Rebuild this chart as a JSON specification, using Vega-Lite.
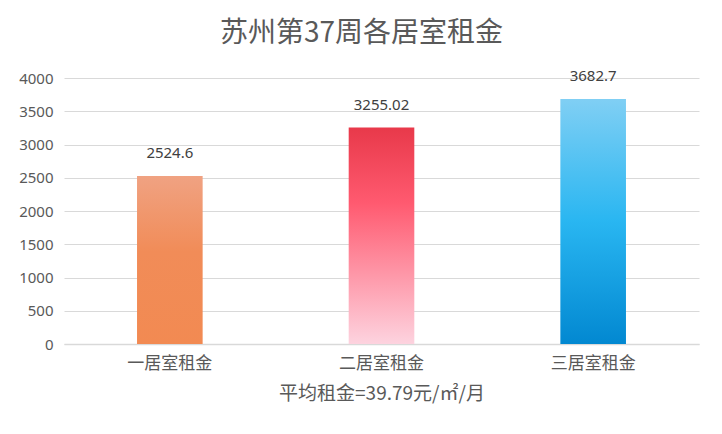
{
  "$schema": "https://vega.github.io/schema/vega-lite/v6.json",
  "width": 635,
  "height": 266,
  "autosize": {"type": "none"},
  "padding": {"left": 64, "top": 78, "right": 23, "bottom": 90},
  "background": "white",
  "title": {
    "text": "苏州第37周各居室租金",
    "font": "Noto Sans CJK SC",
    "fontSize": 28,
    "fontWeight": "normal",
    "color": "#595959",
    "anchor": "middle",
    "dx": -20,
    "offset": 21
  },
  "data": {
    "values": [
      {"type": "一居室租金", "rent": 2524.6, "label": "2524.6"},
      {"type": "二居室租金", "rent": 3255.02, "label": "3255.02"},
      {"type": "三居室租金", "rent": 3682.7, "label": "3682.7"}
    ]
  },
  "encoding": {
    "x": {
      "field": "type",
      "type": "nominal",
      "sort": ["一居室租金", "二居室租金", "三居室租金"],
      "scale": {"paddingInner": 0.69, "paddingOuter": 0.345},
      "axis": {
        "title": "平均租金=39.79元/㎡/月",
        "titleFont": "Noto Sans CJK SC",
        "titleFontSize": 19,
        "titleFontWeight": "normal",
        "titleColor": "#595959",
        "titlePadding": 13,
        "labelAngle": 0,
        "labelFont": "Noto Sans CJK SC",
        "labelFontSize": 17,
        "labelColor": "#595959",
        "labelPadding": 11,
        "ticks": false,
        "domainColor": "#d9d9d9",
        "domainWidth": 1.5,
        "grid": false
      }
    },
    "y": {
      "field": "rent",
      "type": "quantitative",
      "scale": {"domain": [0, 4000]},
      "axis": {
        "title": null,
        "format": "d",
        "values": [0, 500, 1000, 1500, 2000, 2500, 3000, 3500, 4000],
        "labelFont": "Noto Sans",
        "labelFontSize": 15,
        "labelColor": "#595959",
        "labelPadding": 11,
        "ticks": false,
        "domain": false,
        "grid": true,
        "gridColor": "#d9d9d9",
        "gridWidth": 1
      }
    }
  },
  "layer": [
    {
      "transform": [{"filter": "datum.type === '一居室租金'"}],
      "mark": {
        "type": "bar",
        "color": {
          "gradient": "linear", "x1": 0, "y1": 0, "x2": 0, "y2": 1,
          "stops": [
            {"offset": 0, "color": "#F0A282"},
            {"offset": 0.45, "color": "#F18C58"},
            {"offset": 1, "color": "#F28A52"}
          ]
        }
      }
    },
    {
      "transform": [{"filter": "datum.type === '二居室租金'"}],
      "mark": {
        "type": "bar",
        "color": {
          "gradient": "linear", "x1": 0, "y1": 0, "x2": 0, "y2": 1,
          "stops": [
            {"offset": 0, "color": "#E8394A"},
            {"offset": 0.35, "color": "#FF5A70"},
            {"offset": 1, "color": "#FDD3DF"}
          ]
        }
      }
    },
    {
      "transform": [{"filter": "datum.type === '三居室租金'"}],
      "mark": {
        "type": "bar",
        "color": {
          "gradient": "linear", "x1": 0, "y1": 0, "x2": 0, "y2": 1,
          "stops": [
            {"offset": 0, "color": "#80CFF4"},
            {"offset": 0.5, "color": "#29B6F1"},
            {"offset": 1, "color": "#0288D1"}
          ]
        }
      }
    },
    {
      "mark": {
        "type": "text",
        "baseline": "middle",
        "align": "center",
        "dy": -23,
        "font": "Noto Sans",
        "fontSize": 15,
        "color": "#404040"
      },
      "encoding": {"text": {"field": "label"}}
    }
  ],
  "config": {
    "view": {"stroke": null}
  }
}
